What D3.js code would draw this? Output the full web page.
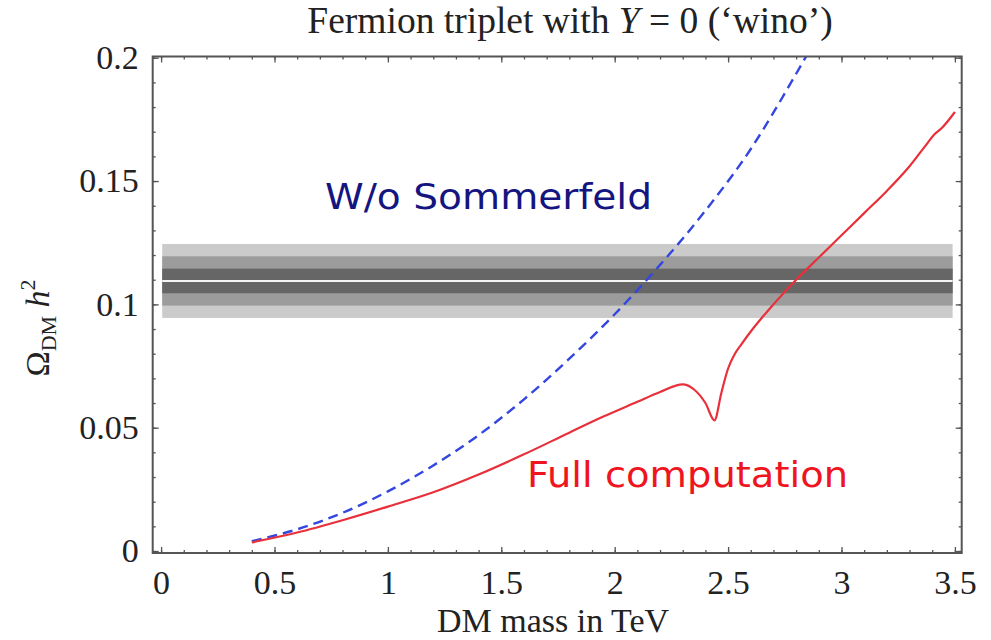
<html>
  <style type="text/css">
    body { margin: 0; background: #fff; }
    text { font-family: "Liberation Serif", "DejaVu Serif", serif; fill: #222; }
  </style>
  <body>
    <script src="https://d3js.org/d3.v7.min.js"></script>
    <script type="text/javascript">
      // values
      const massNoSommerfeld = [0.4, 0.6, 0.8, 1.0, 1.2, 1.4, 1.6, 1.8, 2.0, 2.2, 2.4, 2.6, 2.8, 2.85];
      const omegaNoSommerfeld = [0.004, 0.0088, 0.0155, 0.0242, 0.0347, 0.047, 0.0615, 0.078, 0.096, 0.116, 0.138, 0.163, 0.1935, 0.2015];

      const massFull = [0.4, 0.6, 0.8, 1.0, 1.2, 1.4, 1.6, 1.8, 1.95, 2.1, 2.2, 2.3, 2.35, 2.4, 2.44,
        2.47, 2.5, 2.53, 2.56, 2.6, 2.7, 2.8, 2.9, 3.0, 3.1, 3.2, 3.3, 3.38, 3.41, 3.44, 3.5];
      const omegaFull = [0.0035, 0.0075, 0.0125, 0.018, 0.0238, 0.031, 0.0392, 0.048, 0.0545, 0.0605, 0.0645, 0.0676, 0.0655, 0.06, 0.053,
        0.064, 0.074, 0.08, 0.084, 0.089, 0.1, 0.11, 0.119, 0.128, 0.137, 0.146, 0.156, 0.1655, 0.169, 0.1713, 0.178];

      const bandLow = [0.0945, 0.0995, 0.1045];
      const bandHigh = [0.1245, 0.1195, 0.1145];
      const bandCentre = 0.1095;
      const bandMass = [0.005, 3.49];

      const xTicks = [0, 0.5, 1, 1.5, 2, 2.5, 3, 3.5];
      const yTicks = [0, 0.05, 0.1, 0.15, 0.2];
      const xMinor = d3.range(0, 36).map((i) => i / 10);
      const yMinor = d3.range(0, 21).map((i) => i / 100);

      const props = { width: 991, height: 640 };

      let svg = d3.select("body").append("svg")
        .attr("width", props.width)
        .attr("height", props.height);

      let x = d3.scaleLinear().domain([-0.037, 3.53]).range([152.7, 961.7]);
      let y = d3.scaleLinear().domain([-0.0008, 0.2005]).range([553, 56.5]);

      svg.append("clipPath").attr("id", "frameClip")
        .append("rect")
        .attr("x", x.range()[0]).attr("y", y.range()[1])
        .attr("width", x.range()[1] - x.range()[0])
        .attr("height", y.range()[0] - y.range()[1]);

      // grey bands
      let bandGroup = svg.append("g").attr("id", "bands");
      const bandColours = ["#cbcbcb", "#9c9c9c", "#666666"];
      bandLow.forEach((lo, i) => {
        bandGroup.append("rect")
          .attr("x", x(bandMass[0]))
          .attr("width", x(bandMass[1]) - x(bandMass[0]))
          .attr("y", y(bandHigh[i]))
          .attr("height", y(lo) - y(bandHigh[i]))
          .attr("fill", bandColours[i]);
      });
      bandGroup.append("line")
        .attr("x1", x(bandMass[0])).attr("x2", x(bandMass[1]))
        .attr("y1", y(bandCentre)).attr("y2", y(bandCentre))
        .attr("stroke", "#f4f4f4").attr("stroke-width", 2);

      // curves
      let line = d3.line()
        .x((d) => x(d[0]))
        .y((d) => y(d[1]))
        .curve(d3.curveMonotoneX);

      let curveGroup = svg.append("g").attr("clip-path", "url(#frameClip)");

      curveGroup.append("path")
        .datum(massNoSommerfeld.map((m, i) => [m, omegaNoSommerfeld[i]]))
        .attr("d", line)
        .attr("fill", "none")
        .attr("stroke", "#3347e0")
        .attr("stroke-width", 2.4)
        .attr("stroke-dasharray", "10,6");

      curveGroup.append("path")
        .datum(massFull.map((m, i) => [m, omegaFull[i]]))
        .attr("d", line)
        .attr("fill", "none")
        .attr("stroke", "#e8303a")
        .attr("stroke-width", 2.2);

      // frame with inward ticks on all sides
      function styleAxis(g) {
        g.select(".domain").remove();
        g.selectAll(".tick line").attr("stroke", "#555").attr("stroke-width", 1.3);
        g.selectAll("text").attr("font-size", 34).attr("fill", "#222")
          .attr("font-family", "Liberation Serif, serif");
      }
      const fmt = d3.format("~g");

      svg.append("g").attr("transform", `translate(0,${y.range()[0]})`)
        .call(d3.axisBottom(x).tickValues(xMinor).tickSize(-3).tickFormat(""))
        .call(styleAxis);
      svg.append("g").attr("transform", `translate(0,${y.range()[0]})`)
        .call(d3.axisBottom(x).tickValues(xTicks).tickSize(-6).tickPadding(17).tickFormat(fmt))
        .call(styleAxis);
      svg.append("g").attr("transform", `translate(0,${y.range()[1]})`)
        .call(d3.axisTop(x).tickValues(xMinor).tickSize(-3).tickFormat(""))
        .call(styleAxis);
      svg.append("g").attr("transform", `translate(0,${y.range()[1]})`)
        .call(d3.axisTop(x).tickValues(xTicks).tickSize(-6).tickFormat(""))
        .call(styleAxis);

      svg.append("g").attr("transform", `translate(${x.range()[0]},0)`)
        .call(d3.axisLeft(y).tickValues(yMinor).tickSize(-3).tickFormat(""))
        .call(styleAxis);
      svg.append("g").attr("transform", `translate(${x.range()[0]},0)`)
        .call(d3.axisLeft(y).tickValues(yTicks).tickSize(-6).tickPadding(14).tickFormat(fmt))
        .call(styleAxis);
      svg.append("g").attr("transform", `translate(${x.range()[1]},0)`)
        .call(d3.axisRight(y).tickValues(yMinor).tickSize(-3).tickFormat(""))
        .call(styleAxis);
      svg.append("g").attr("transform", `translate(${x.range()[1]},0)`)
        .call(d3.axisRight(y).tickValues(yTicks).tickSize(-6).tickFormat(""))
        .call(styleAxis);

      svg.append("rect")
        .attr("x", x.range()[0]).attr("y", y.range()[1])
        .attr("width", x.range()[1] - x.range()[0])
        .attr("height", y.range()[0] - y.range()[1])
        .attr("fill", "none").attr("stroke", "#555").attr("stroke-width", 2);

      // titles
      let title = svg.append("text")
        .attr("x", 570).attr("y", 33)
        .attr("text-anchor", "middle")
        .attr("font-size", 37.5);
      title.append("tspan").text("Fermion triplet with ");
      title.append("tspan").attr("font-style", "italic").text("Y");
      title.append("tspan").text(" = 0 (\u2018wino\u2019)");

      svg.append("text")
        .attr("x", 553).attr("y", 632)
        .attr("text-anchor", "middle")
        .attr("font-size", 34)
        .text("DM mass in TeV");

      let yLabel = svg.append("text")
        .attr("transform", "translate(49,328) rotate(-90)")
        .attr("text-anchor", "middle")
        .attr("font-size", 34);
      yLabel.append("tspan").text("\u03A9");
      yLabel.append("tspan").attr("font-size", 22).attr("dy", 7).text("DM");
      yLabel.append("tspan").attr("font-style", "italic").attr("dy", -7).text(" h");
      yLabel.append("tspan").attr("font-size", 22).attr("dy", -14).text("2");

      // annotations
      svg.append("text")
        .attr("x", 325).attr("y", 209)
        .style("font-family", "'DejaVu Sans', Verdana, sans-serif")
        .attr("font-size", 35)
        .attr("textLength", 327)
        .attr("lengthAdjust", "spacingAndGlyphs")
        .style("fill", "#15157f")
        .text("W/o Sommerfeld");

      svg.append("text")
        .attr("x", 527).attr("y", 487)
        .style("font-family", "'DejaVu Sans', Verdana, sans-serif")
        .attr("font-size", 35)
        .attr("textLength", 321)
        .attr("lengthAdjust", "spacingAndGlyphs")
        .style("fill", "#ee1520")
        .text("Full computation");
    </script>
  </body>
</html>
